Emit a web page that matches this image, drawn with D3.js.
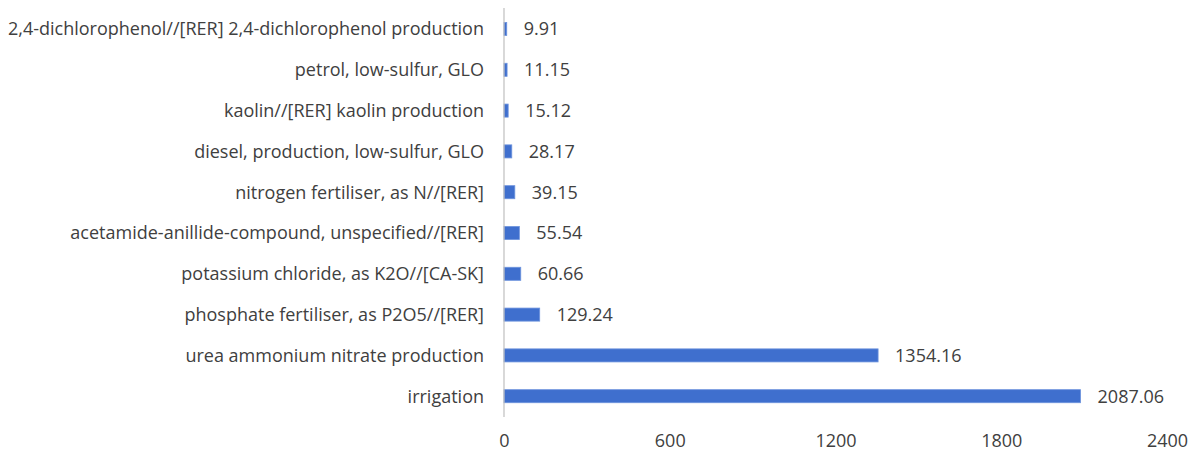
<!DOCTYPE html>
<meta charset="utf-8">
<style>
body { margin: 0; background: #fff; }
text { font-family: "Open Sans", sans-serif; fill: #404040; }
</style>
<body>
<svg id="chart" width="1195" height="451"></svg>
<script src="https://cdn.jsdelivr.net/npm/d3@7"></script>
<script>

var categories = [
  "2,4-dichlorophenol//[RER] 2,4-dichlorophenol production",
  "petrol, low-sulfur, GLO",
  "kaolin//[RER] kaolin production",
  "diesel, production, low-sulfur, GLO",
  "nitrogen fertiliser, as N//[RER]",
  "acetamide-anillide-compound, unspecified//[RER]",
  "potassium chloride, as K2O//[CA-SK]",
  "phosphate fertiliser, as P2O5//[RER]",
  "urea ammonium nitrate production",
  "irrigation"
];
var values = [9.91, 11.15, 15.12, 28.17, 39.15, 55.54, 60.66, 129.24, 1354.16, 2087.06];
var tickValues = [0, 600, 1200, 1800, 2400];

var svg = d3.select("#chart");

var x = d3.scaleLinear().domain([0, 2400]).range([504, 1167]);
var y = d3.scaleBand().domain(categories).range([8.6, 416.6]).paddingInner(0.68).paddingOuter(0.34);

var data = categories.map(function(c, i) { return {name: c, value: values[i]}; });

// bars
svg.append("g").selectAll("rect")
    .data(data)
  .enter().append("rect")
    .attr("x", x(0))
    .attr("y", function(d) { return y(d.name); })
    .attr("width", function(d) { return x(d.value) - x(0); })
    .attr("height", y.bandwidth())
    .attr("fill", "#3f6fce")
    .attr("stroke", "#6d93dd")
    .attr("stroke-width", 0.8);

// vertical axis line + category labels
svg.append("line")
    .attr("x1", x(0)).attr("x2", x(0))
    .attr("y1", 8).attr("y2", 417)
    .attr("stroke", "#bfbfbf")
    .attr("stroke-width", 1.2);

svg.append("g").selectAll("text")
    .data(data)
  .enter().append("text")
    .attr("x", x(0) - 20)
    .attr("y", function(d) { return y(d.name) + y.bandwidth() / 2; })
    .attr("dy", "0.35em")
    .attr("text-anchor", "end")
    .style("font-size", "18px")
    .text(function(d) { return d.name; });

// value labels
svg.append("g").selectAll("text")
    .data(data)
  .enter().append("text")
    .attr("x", function(d) { return x(d.value) + 17; })
    .attr("y", function(d) { return y(d.name) + y.bandwidth() / 2; })
    .attr("dy", "0.35em")
    .style("font-size", "18px")
    .text(function(d) { return d.value.toFixed(2); });

// x axis (labels only)
var xAxis = svg.append("g")
    .attr("transform", "translate(0,441)")
    .call(d3.axisBottom(x).tickValues(tickValues).tickFormat(d3.format("d")).tickSize(0).tickPadding(0));
xAxis.select(".domain").remove();
xAxis.selectAll("text")
    .attr("y", 0)
    .attr("dy", "0.35em")
    .style("font-size", "18px")
    .style("font-family", "'Open Sans', sans-serif")
    .attr("fill", "#404040");

</script>
</body>
</html>
